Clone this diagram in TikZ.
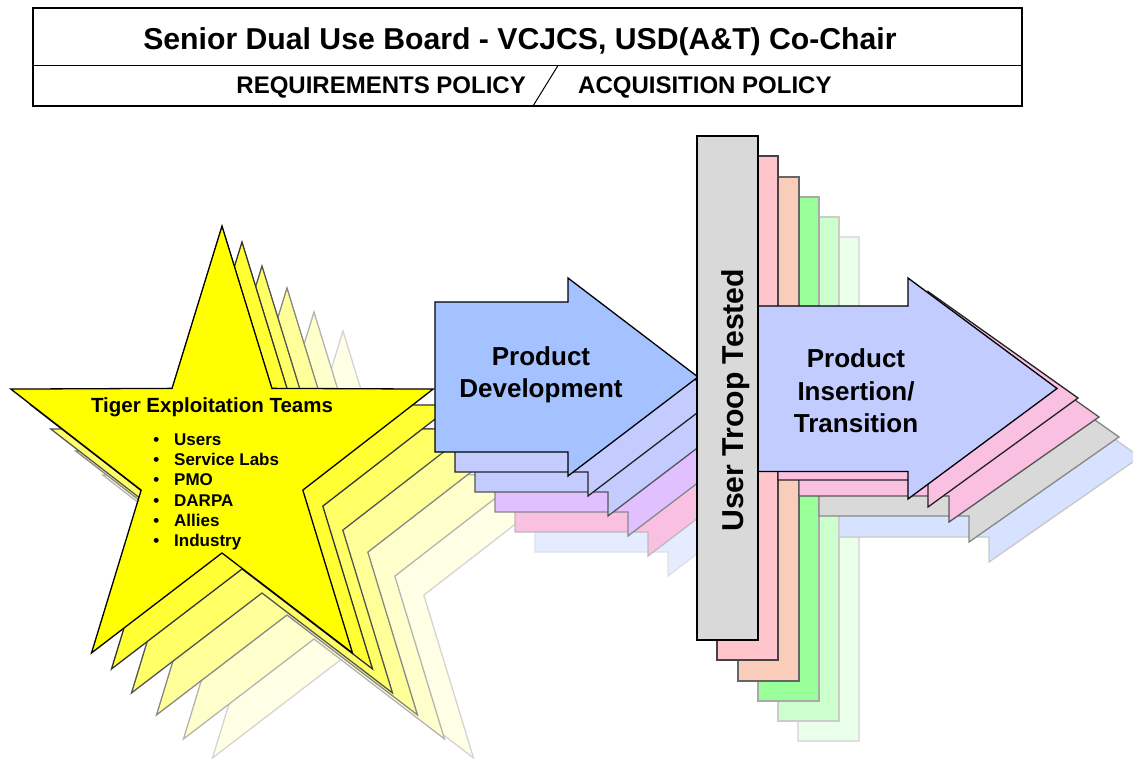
\documentclass[tikz,border=0pt]{standalone}
\usepackage{fontspec}
\setmainfont{Liberation Sans}
% star fills and outlines, back to front
\definecolor{starE}{HTML}{FFFFE6}\definecolor{starEl}{HTML}{D4D4D4}
\definecolor{starD}{HTML}{FFFFCC}\definecolor{starDl}{HTML}{B4B4B4}
\definecolor{starC}{HTML}{FFFF99}\definecolor{starCl}{HTML}{888888}
\definecolor{starB}{HTML}{FFFF66}\definecolor{starBl}{HTML}{555555}
\definecolor{starA}{HTML}{FFFF33}\definecolor{starAl}{HTML}{333333}
\definecolor{starMain}{HTML}{FFFF00}
% development arrow stack
\definecolor{devE}{HTML}{E6ECFF}\definecolor{devEl}{HTML}{E0E0E0}
\definecolor{devD}{HTML}{F9C0E2}\definecolor{devDl}{HTML}{BBBBBB}
\definecolor{devC}{HTML}{E0C0FF}\definecolor{devCl}{HTML}{888888}
\definecolor{devB}{HTML}{C4CCFF}\definecolor{devBl}{HTML}{555555}
\definecolor{devA}{HTML}{C4CCFF}\definecolor{devAl}{HTML}{222222}
\definecolor{devMain}{HTML}{A3C2FF}
% test bar stack
\definecolor{barE}{HTML}{EAFFEA}\definecolor{barEl}{HTML}{E0E0E0}
\definecolor{barD}{HTML}{CCFFCC}\definecolor{barDl}{HTML}{CCCCCC}
\definecolor{barC}{HTML}{99FF99}\definecolor{barCl}{HTML}{AAAAAA}
\definecolor{barB}{HTML}{F9CDB9}\definecolor{barBl}{HTML}{666666}
\definecolor{barA}{HTML}{FFC4CC}\definecolor{barAl}{HTML}{444444}
\definecolor{barMain}{HTML}{D9D9D9}
% insertion arrow stack
\definecolor{insD}{HTML}{D6E2FF}\definecolor{insDl}{HTML}{C8C8C8}
\definecolor{insC}{HTML}{D9D9D9}\definecolor{insCl}{HTML}{888888}
\definecolor{insB}{HTML}{F9C0E2}\definecolor{insBl}{HTML}{555555}
\definecolor{insA}{HTML}{F9C0E2}\definecolor{insAl}{HTML}{222222}
\definecolor{insMain}{HTML}{C2CCFF}

% five-pointed star centred on (222,462), shifted by #1,#2
\newcommand{\teamstar}[4]{%
  \begin{scope}[shift={(222+#1,462+#2)}]
    \draw[shape line, fill=#3, draw=#4]
      (90:222pt and 236pt) -- (126:85pt and 91pt) -- (162:222pt and 236pt) --
      (198:85pt and 91pt) -- (234:222pt and 236pt) -- (270:85pt and 91pt) --
      (306:222pt and 236pt) -- (342:85pt and 91pt) -- (18:222pt and 236pt) --
      (54:85pt and 91pt) -- cycle;
  \end{scope}}
% shadow of the insertion arrow:
% #1 left x, #2 head base x, #3 tip x, #4 tip y, #5 body bottom, #6 head bottom
\newcommand{\insshadow}[8]{%
  \draw[shape line, fill=#7, draw=#8]
    (#1,#4-84) -- (#2,#4-84) -- (#2,#4-106.5) -- (#3,#4) -- (#2,#6) -- (#2,#5) -- (#1,#5) -- cycle;}
\def\devpath{(435,302) -- (568,302) -- (568,278) -- (698,377) -- (568,476) -- (568,452) -- (435,452) -- cycle}
\def\barpath{(697,136) rectangle (758,640)}
\def\inspath{(758,306) -- (908,306) -- (908,278) -- (1057,388.5) -- (908,499) -- (908,471.5) -- (758,471.5) -- cycle}

\tikzset{
  shape line/.style={line width=1.3pt, line join=miter},
  frame line/.style={line width=1.5pt},
  titletext/.style={font=\bfseries\fontsize{30.2}{36}\selectfont, inner sep=0pt},
  policytext/.style={font=\bfseries\fontsize{24}{28}\selectfont, inner sep=0pt},
  stagetext/.style={font=\bfseries\fontsize{26}{32.5}\selectfont, align=center, inner sep=0pt},
  teamtitle/.style={font=\bfseries\fontsize{20.5}{24}\selectfont, inner sep=0pt},
  teamitem/.style={font=\bfseries\fontsize{17}{20}\selectfont, inner sep=0pt, anchor=base west},
}

\begin{document}
\begin{tikzpicture}[x=1pt, y=-1pt]
\useasboundingbox (0,0) rectangle (1133,759);

% board header
\draw[frame line] (33,8) rectangle (1022,106);
\draw[frame line] (33,65.5) -- (1022,65.5);
\node[titletext, anchor=base] (board) at (520,50) {Senior Dual Use Board - VCJCS, USD(A\&T) Co-Chair};
\node[policytext, anchor=base east] (reqpol) at (526,93.5) {REQUIREMENTS POLICY};
\node[policytext, anchor=base west] (acqpol) at (578,93.5) {ACQUISITION POLICY};
\coordinate (slashtop) at (558,65.5);
\coordinate (slashbot) at (533,106);
\draw[line width=1pt] (slashtop) -- (slashbot);

% tiger team stars
\teamstar{121}{105}{starE}{starEl}
\teamstar{92}{86}{starD}{starDl}
\teamstar{65}{62}{starC}{starCl}
\teamstar{40}{40}{starB}{starBl}
\teamstar{20}{16}{starA}{starAl}
\teamstar{0}{0}{starMain}{black}

\node[teamtitle, anchor=base] (tiger) at (212,413) {Tiger Exploitation Teams};
\foreach \t [count=\i] in {Users, Service Labs, PMO, DARPA, Allies, Industry}
  \node[teamitem] (item\i) at (174,{445.3+20.24*(\i-1)}) {\llap{\textbullet\hspace{15pt}}\t};

% product development arrows
\begin{scope}
  \clip (0,0) rectangle (697,759);
  \draw[shape line, fill=devE, draw=devEl, shift={(100,100)}] \devpath;
  \draw[shape line, fill=devD, draw=devDl, shift={(80,80)}] \devpath;
  \draw[shape line, fill=devC, draw=devCl, shift={(60,60)}] \devpath;
  \draw[shape line, fill=devB, draw=devBl, shift={(40,40)}] \devpath;
  \draw[shape line, fill=devA, draw=devAl, shift={(20,20)}] \devpath;
\end{scope}
\draw[shape line, fill=devMain, draw=black] \devpath;
\node[stagetext] (dev) at (541,375) {Product\\Development};

% test bars and insertion arrows, back to front
\draw[shape line, fill=barE, draw=barEl, shift={(101,101)}] \barpath;
\draw[shape line, fill=barD, draw=barDl, shift={(81,81)}] \barpath;
\insshadow{839}{989}{1140}{457}{537}{562}{insD}{insDl}
\draw[shape line, fill=barC, draw=barCl, shift={(61,61)}] \barpath;
\insshadow{819}{969}{1119}{437}{516}{542}{insC}{insCl}
\draw[shape line, fill=barB, draw=barBl, shift={(41,41)}] \barpath;
\insshadow{799}{949}{1099}{417}{496}{522}{insB}{insBl}
\draw[shape line, fill=barA, draw=barAl, shift={(20,20)}] \barpath;
\insshadow{778}{928}{1078}{398}{480}{507}{insA}{insAl}
\draw[shape line, fill=insMain, draw=black] \inspath;
\node[stagetext] (ins) at (856,391) {Product\\Insertion/\\Transition};
\draw[shape line, fill=barMain, draw=black] \barpath;
\node[titletext, rotate=90, anchor=base west] (troop) at (743,532) {User Troop Tested};
\end{tikzpicture}
\end{document}
